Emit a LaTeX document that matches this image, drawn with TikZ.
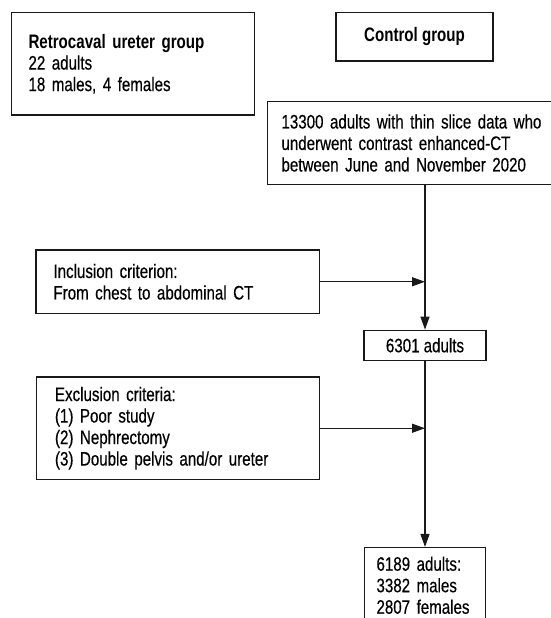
\documentclass[tikz,border=0pt]{standalone}
\usepackage{fontspec}
\setmainfont{Liberation Sans}[FakeStretch=0.775, UprightFeatures={FakeBold=0.4}]
\usepackage{tikz}
\usetikzlibrary{arrows.meta,positioning}

\begin{document}
\begin{tikzpicture}[
    x=1pt, y=-1pt,
    font=\fontsize{19.5}{21.5}\selectfont,
    box/.style={rectangle, draw=black!90, line width=1.3pt, align=left, inner ysep=0pt},
    countbox/.style={rectangle, draw=black!90, line width=1.3pt, align=center, minimum width=122pt, minimum height=30pt},
    arrow/.style={-{Triangle[length=13pt,width=9pt]}, line width=1.3pt, draw=black!90}
]
\useasboundingbox (0,0) rectangle (551,618);
\clip (0,0) rectangle (551,618);

% Retrocaval group
\node[box, inner xsep=17pt, text width=209pt, minimum height=102.5pt] (retro) at (133,63.75)
    {\textbf{Retrocaval ureter group}\\22 adults\\18 males, 4 females};

% Control group
\node[countbox, minimum width=157pt, minimum height=48.5pt] (control) at (414.5,36.75) {\textbf{Control group}};

% Source population
\node[box, inner xsep=14pt, text width=287pt, minimum height=83pt] (start) at (425,143)
    {13300 adults with thin slice data who\\underwent contrast enhanced-CT\\between June and November 2020};

% Inclusion
\node[box, inner xsep=17.5pt, text width=248.5pt, minimum height=63.5pt] (incl) at (177.75,281.75)
    {Inclusion criterion:\\From chest to abdominal CT};

\node[countbox, below=144.5pt of start] (n6301) {6301 adults};

% Exclusion
\node[box, inner xsep=18.5pt, text width=246pt, minimum height=102.5pt] (excl) at (178,428.25)
    {Exclusion criteria:\\(1) Poor study\\(2) Nephrectomy\\(3) Double pelvis and/or ureter};

\node[box, inner xsep=12pt, inner ysep=9pt, text width=97pt, below=186pt of n6301] (n6189)
    {6189 adults:\\3382 males\\2807 females};

\coordinate (injoin) at (incl.east -| n6301.north);
\coordinate (exjoin) at (excl.east -| n6301.north);

% Arrows
\draw[arrow] (start.south -| n6301.north) -- (n6301.north);
\draw[arrow] (n6301) -- (n6189);
\draw[arrow] (incl) -- (injoin);
\draw[arrow] (excl) -- (exjoin);

\end{tikzpicture}
\end{document}
